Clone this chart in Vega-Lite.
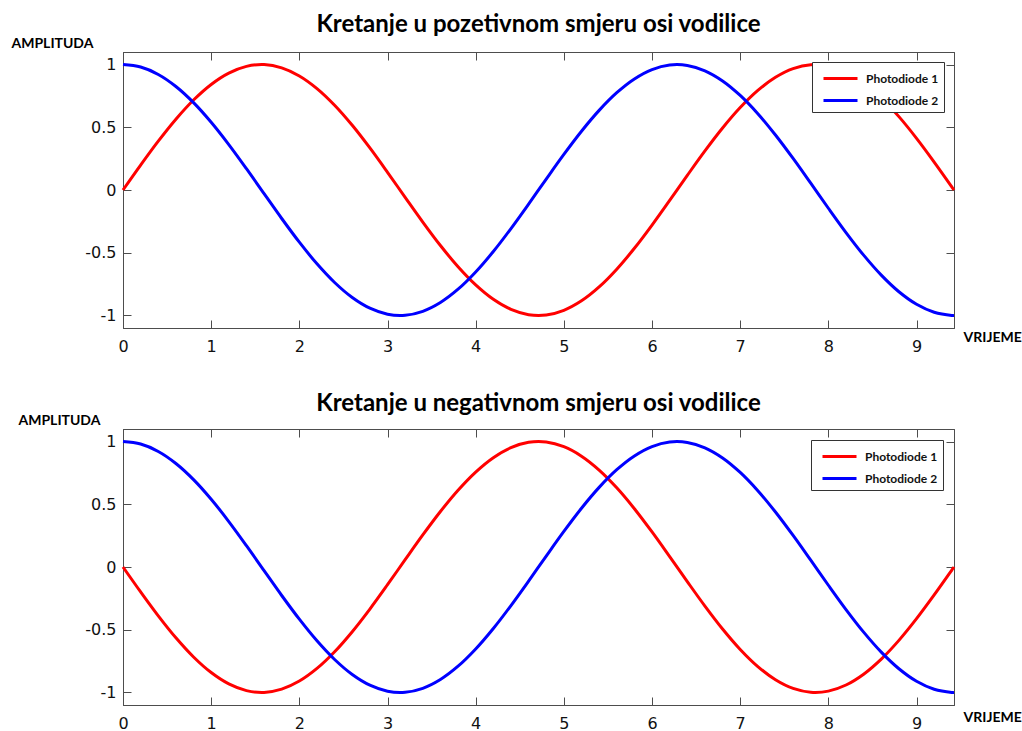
{
 "$schema": "https://vega.github.io/schema/vega-lite/v6.json",
 "background": "white",
 "padding": {"left": 10, "top": 12, "right": 5, "bottom": 0},
 "spacing": 36,
 "resolve": {"scale": {"color": "independent"}, "legend": {"color": "independent"}},
 "datasets": {
  "top": [
   {"t":0,"Photodiode 1":0,"Photodiode 2":1},
   {"t":0.2,"Photodiode 1":0.1987,"Photodiode 2":0.9801},
   {"t":0.4,"Photodiode 1":0.3894,"Photodiode 2":0.9211},
   {"t":0.6,"Photodiode 1":0.5646,"Photodiode 2":0.8253},
   {"t":0.8,"Photodiode 1":0.7174,"Photodiode 2":0.6967},
   {"t":1.0,"Photodiode 1":0.8415,"Photodiode 2":0.5403},
   {"t":1.2,"Photodiode 1":0.932,"Photodiode 2":0.3624},
   {"t":1.4,"Photodiode 1":0.9854,"Photodiode 2":0.17},
   {"t":1.6,"Photodiode 1":0.9996,"Photodiode 2":-0.0292},
   {"t":1.8,"Photodiode 1":0.9738,"Photodiode 2":-0.2272},
   {"t":2.0,"Photodiode 1":0.9093,"Photodiode 2":-0.4161},
   {"t":2.2,"Photodiode 1":0.8085,"Photodiode 2":-0.5885},
   {"t":2.4,"Photodiode 1":0.6755,"Photodiode 2":-0.7374},
   {"t":2.6,"Photodiode 1":0.5155,"Photodiode 2":-0.8569},
   {"t":2.8,"Photodiode 1":0.335,"Photodiode 2":-0.9422},
   {"t":3.0,"Photodiode 1":0.1411,"Photodiode 2":-0.99},
   {"t":3.2,"Photodiode 1":-0.0584,"Photodiode 2":-0.9983},
   {"t":3.4,"Photodiode 1":-0.2555,"Photodiode 2":-0.9668},
   {"t":3.6,"Photodiode 1":-0.4425,"Photodiode 2":-0.8968},
   {"t":3.8,"Photodiode 1":-0.6119,"Photodiode 2":-0.791},
   {"t":4.0,"Photodiode 1":-0.7568,"Photodiode 2":-0.6536},
   {"t":4.2,"Photodiode 1":-0.8716,"Photodiode 2":-0.4903},
   {"t":4.4,"Photodiode 1":-0.9516,"Photodiode 2":-0.3073},
   {"t":4.6,"Photodiode 1":-0.9937,"Photodiode 2":-0.1122},
   {"t":4.8,"Photodiode 1":-0.9962,"Photodiode 2":0.0875},
   {"t":5.0,"Photodiode 1":-0.9589,"Photodiode 2":0.2837},
   {"t":5.2,"Photodiode 1":-0.8835,"Photodiode 2":0.4685},
   {"t":5.4,"Photodiode 1":-0.7728,"Photodiode 2":0.6347},
   {"t":5.6,"Photodiode 1":-0.6313,"Photodiode 2":0.7756},
   {"t":5.8,"Photodiode 1":-0.4646,"Photodiode 2":0.8855},
   {"t":6.0,"Photodiode 1":-0.2794,"Photodiode 2":0.9602},
   {"t":6.2,"Photodiode 1":-0.0831,"Photodiode 2":0.9965},
   {"t":6.4,"Photodiode 1":0.1165,"Photodiode 2":0.9932},
   {"t":6.6,"Photodiode 1":0.3115,"Photodiode 2":0.9502},
   {"t":6.8,"Photodiode 1":0.4941,"Photodiode 2":0.8694},
   {"t":7.0,"Photodiode 1":0.657,"Photodiode 2":0.7539},
   {"t":7.2,"Photodiode 1":0.7937,"Photodiode 2":0.6084},
   {"t":7.4,"Photodiode 1":0.8987,"Photodiode 2":0.4385},
   {"t":7.6,"Photodiode 1":0.9679,"Photodiode 2":0.2513},
   {"t":7.8,"Photodiode 1":0.9985,"Photodiode 2":0.054},
   {"t":8.0,"Photodiode 1":0.9894,"Photodiode 2":-0.1455},
   {"t":8.2,"Photodiode 1":0.9407,"Photodiode 2":-0.3392},
   {"t":8.4,"Photodiode 1":0.8546,"Photodiode 2":-0.5193},
   {"t":8.6,"Photodiode 1":0.7344,"Photodiode 2":-0.6787},
   {"t":8.8,"Photodiode 1":0.5849,"Photodiode 2":-0.8111},
   {"t":9.0,"Photodiode 1":0.4121,"Photodiode 2":-0.9111},
   {"t":9.2,"Photodiode 1":0.2229,"Photodiode 2":-0.9748},
   {"t":9.4,"Photodiode 1":0.0248,"Photodiode 2":-0.9997},
   {"t":9.42478,"Photodiode 1":0,"Photodiode 2":-1}
  ],
  "bottom": [
   {"t":0,"Photodiode 1":0,"Photodiode 2":1},
   {"t":0.2,"Photodiode 1":-0.1987,"Photodiode 2":0.9801},
   {"t":0.4,"Photodiode 1":-0.3894,"Photodiode 2":0.9211},
   {"t":0.6,"Photodiode 1":-0.5646,"Photodiode 2":0.8253},
   {"t":0.8,"Photodiode 1":-0.7174,"Photodiode 2":0.6967},
   {"t":1.0,"Photodiode 1":-0.8415,"Photodiode 2":0.5403},
   {"t":1.2,"Photodiode 1":-0.932,"Photodiode 2":0.3624},
   {"t":1.4,"Photodiode 1":-0.9854,"Photodiode 2":0.17},
   {"t":1.6,"Photodiode 1":-0.9996,"Photodiode 2":-0.0292},
   {"t":1.8,"Photodiode 1":-0.9738,"Photodiode 2":-0.2272},
   {"t":2.0,"Photodiode 1":-0.9093,"Photodiode 2":-0.4161},
   {"t":2.2,"Photodiode 1":-0.8085,"Photodiode 2":-0.5885},
   {"t":2.4,"Photodiode 1":-0.6755,"Photodiode 2":-0.7374},
   {"t":2.6,"Photodiode 1":-0.5155,"Photodiode 2":-0.8569},
   {"t":2.8,"Photodiode 1":-0.335,"Photodiode 2":-0.9422},
   {"t":3.0,"Photodiode 1":-0.1411,"Photodiode 2":-0.99},
   {"t":3.2,"Photodiode 1":0.0584,"Photodiode 2":-0.9983},
   {"t":3.4,"Photodiode 1":0.2555,"Photodiode 2":-0.9668},
   {"t":3.6,"Photodiode 1":0.4425,"Photodiode 2":-0.8968},
   {"t":3.8,"Photodiode 1":0.6119,"Photodiode 2":-0.791},
   {"t":4.0,"Photodiode 1":0.7568,"Photodiode 2":-0.6536},
   {"t":4.2,"Photodiode 1":0.8716,"Photodiode 2":-0.4903},
   {"t":4.4,"Photodiode 1":0.9516,"Photodiode 2":-0.3073},
   {"t":4.6,"Photodiode 1":0.9937,"Photodiode 2":-0.1122},
   {"t":4.8,"Photodiode 1":0.9962,"Photodiode 2":0.0875},
   {"t":5.0,"Photodiode 1":0.9589,"Photodiode 2":0.2837},
   {"t":5.2,"Photodiode 1":0.8835,"Photodiode 2":0.4685},
   {"t":5.4,"Photodiode 1":0.7728,"Photodiode 2":0.6347},
   {"t":5.6,"Photodiode 1":0.6313,"Photodiode 2":0.7756},
   {"t":5.8,"Photodiode 1":0.4646,"Photodiode 2":0.8855},
   {"t":6.0,"Photodiode 1":0.2794,"Photodiode 2":0.9602},
   {"t":6.2,"Photodiode 1":0.0831,"Photodiode 2":0.9965},
   {"t":6.4,"Photodiode 1":-0.1165,"Photodiode 2":0.9932},
   {"t":6.6,"Photodiode 1":-0.3115,"Photodiode 2":0.9502},
   {"t":6.8,"Photodiode 1":-0.4941,"Photodiode 2":0.8694},
   {"t":7.0,"Photodiode 1":-0.657,"Photodiode 2":0.7539},
   {"t":7.2,"Photodiode 1":-0.7937,"Photodiode 2":0.6084},
   {"t":7.4,"Photodiode 1":-0.8987,"Photodiode 2":0.4385},
   {"t":7.6,"Photodiode 1":-0.9679,"Photodiode 2":0.2513},
   {"t":7.8,"Photodiode 1":-0.9985,"Photodiode 2":0.054},
   {"t":8.0,"Photodiode 1":-0.9894,"Photodiode 2":-0.1455},
   {"t":8.2,"Photodiode 1":-0.9407,"Photodiode 2":-0.3392},
   {"t":8.4,"Photodiode 1":-0.8546,"Photodiode 2":-0.5193},
   {"t":8.6,"Photodiode 1":-0.7344,"Photodiode 2":-0.6787},
   {"t":8.8,"Photodiode 1":-0.5849,"Photodiode 2":-0.8111},
   {"t":9.0,"Photodiode 1":-0.4121,"Photodiode 2":-0.9111},
   {"t":9.2,"Photodiode 1":-0.2229,"Photodiode 2":-0.9748},
   {"t":9.4,"Photodiode 1":-0.0248,"Photodiode 2":-0.9997},
   {"t":9.42478,"Photodiode 1":0,"Photodiode 2":-1}
  ]
 },
 "config": {
  "view": {"stroke": "#4d4d4d", "strokeWidth": 1},
  "axis": {
   "grid": false,
   "domainColor": "#4d4d4d",
   "tickColor": "#4d4d4d",
   "tickSize": -8,
   "labelFlush": false,
   "labelFont": "DejaVu Sans",
   "labelFontSize": 16,
   "labelColor": "#111111",
   "titleFont": "Lato",
   "titleFontSize": 14,
   "titleFontWeight": "bold",
   "titleColor": "#000000"
  },
  "title": {"font": "Lato", "fontSize": 24, "fontWeight": "bold", "color": "#000000", "anchor": "middle", "baseline": "alphabetic"},
  "legend": {
   "orient": "top-right",
   "offset": 10,
   "strokeColor": "#333333",
   "fillColor": "white",
   "padding": 5,
   "labelFont": "Lato",
   "labelFontSize": 12,
   "labelFontWeight": "bold",
   "labelColor": "#111111",
   "symbolType": "M-1.7,0H1.7",
   "symbolSize": 400,
   "symbolStrokeWidth": 3,
   "symbolOffset": 12,
   "labelOffset": 14,
   "rowPadding": 4
  }
 },
 "vconcat": [
  {
   "width": 831,
   "height": 276,
   "data": {"name": "top"},
   "transform": [{"fold": ["Photodiode 1", "Photodiode 2"], "as": ["series", "value"]}],
   "title": {"text": "Kretanje u pozetivnom smjeru osi vodilice", "offset": -1},
   "layer": [
    {
     "mark": {"type": "line", "strokeWidth": 3, "interpolate": "catmull-rom"},
     "encoding": {
      "x": {"field": "t", "type": "quantitative", "scale": {"domain": [0, 9.42478], "nice": false, "zero": false},
            "axis": {"values": [0,1,2,3,4,5,6,7,8,9], "title": "VRIJEME", "titleX": 840, "titleY": 9, "titleAlign": "left", "titleBaseline": "middle", "labelPadding": 18}},
      "y": {"field": "value", "type": "quantitative", "scale": {"domain": [-1.1, 1.1], "nice": false, "zero": false},
            "axis": {"values": [-1,-0.5,0,0.5,1], "labelExpr": "datum.value + ''", "title": "AMPLITUDA", "titleAngle": 0, "titleX": -112, "titleY": -9, "titleAlign": "left", "titleBaseline": "middle", "labelPadding": 15}},
      "color": {"field": "series", "type": "nominal", "scale": {"domain": ["Photodiode 1", "Photodiode 2"], "range": ["#ff0000", "#0000ff"]}, "legend": {"title": null}}
     }
    },
    {
     "mark": {"type": "line", "strokeOpacity": 0},
     "encoding": {
      "x": {"field": "t", "type": "quantitative", "scale": {"domain": [0, 9.42478], "nice": false, "zero": false},
            "axis": {"orient": "top", "values": [0,1,2,3,4,5,6,7,8,9], "labels": false, "title": null}},
      "y": {"field": "value", "type": "quantitative", "scale": {"domain": [-1.1, 1.1], "nice": false, "zero": false},
            "axis": {"orient": "right", "values": [-1,-0.5,0,0.5,1], "labels": false, "title": null}},
      "detail": {"field": "series"}
     }
    }
   ],
   "resolve": {"axis": {"x": "independent", "y": "independent"}}
  },
  {
   "width": 831,
   "height": 276,
   "data": {"name": "bottom"},
   "transform": [{"fold": ["Photodiode 1", "Photodiode 2"], "as": ["series", "value"]}],
   "title": {"text": "Kretanje u negativnom smjeru osi vodilice", "offset": -3},
   "layer": [
    {
     "mark": {"type": "line", "strokeWidth": 3, "interpolate": "catmull-rom"},
     "encoding": {
      "x": {"field": "t", "type": "quantitative", "scale": {"domain": [0, 9.42478], "nice": false, "zero": false},
            "axis": {"values": [0,1,2,3,4,5,6,7,8,9], "title": "VRIJEME", "titleX": 840, "titleY": 12, "titleAlign": "left", "titleBaseline": "middle", "labelPadding": 18}},
      "y": {"field": "value", "type": "quantitative", "scale": {"domain": [-1.1, 1.1], "nice": false, "zero": false},
            "axis": {"values": [-1,-0.5,0,0.5,1], "labelExpr": "datum.value + ''", "title": "AMPLITUDA", "titleAngle": 0, "titleX": -105, "titleY": -9, "titleAlign": "left", "titleBaseline": "middle", "labelPadding": 15}},
      "color": {"field": "series", "type": "nominal", "scale": {"domain": ["Photodiode 1", "Photodiode 2"], "range": ["#ff0000", "#0000ff"]}, "legend": {"title": null, "offset": 11}}
     }
    },
    {
     "mark": {"type": "line", "strokeOpacity": 0},
     "encoding": {
      "x": {"field": "t", "type": "quantitative", "scale": {"domain": [0, 9.42478], "nice": false, "zero": false},
            "axis": {"orient": "top", "values": [0,1,2,3,4,5,6,7,8,9], "labels": false, "title": null}},
      "y": {"field": "value", "type": "quantitative", "scale": {"domain": [-1.1, 1.1], "nice": false, "zero": false},
            "axis": {"orient": "right", "values": [-1,-0.5,0,0.5,1], "labels": false, "title": null}},
      "detail": {"field": "series"}
     }
    }
   ],
   "resolve": {"axis": {"x": "independent", "y": "independent"}}
  }
 ]
}
